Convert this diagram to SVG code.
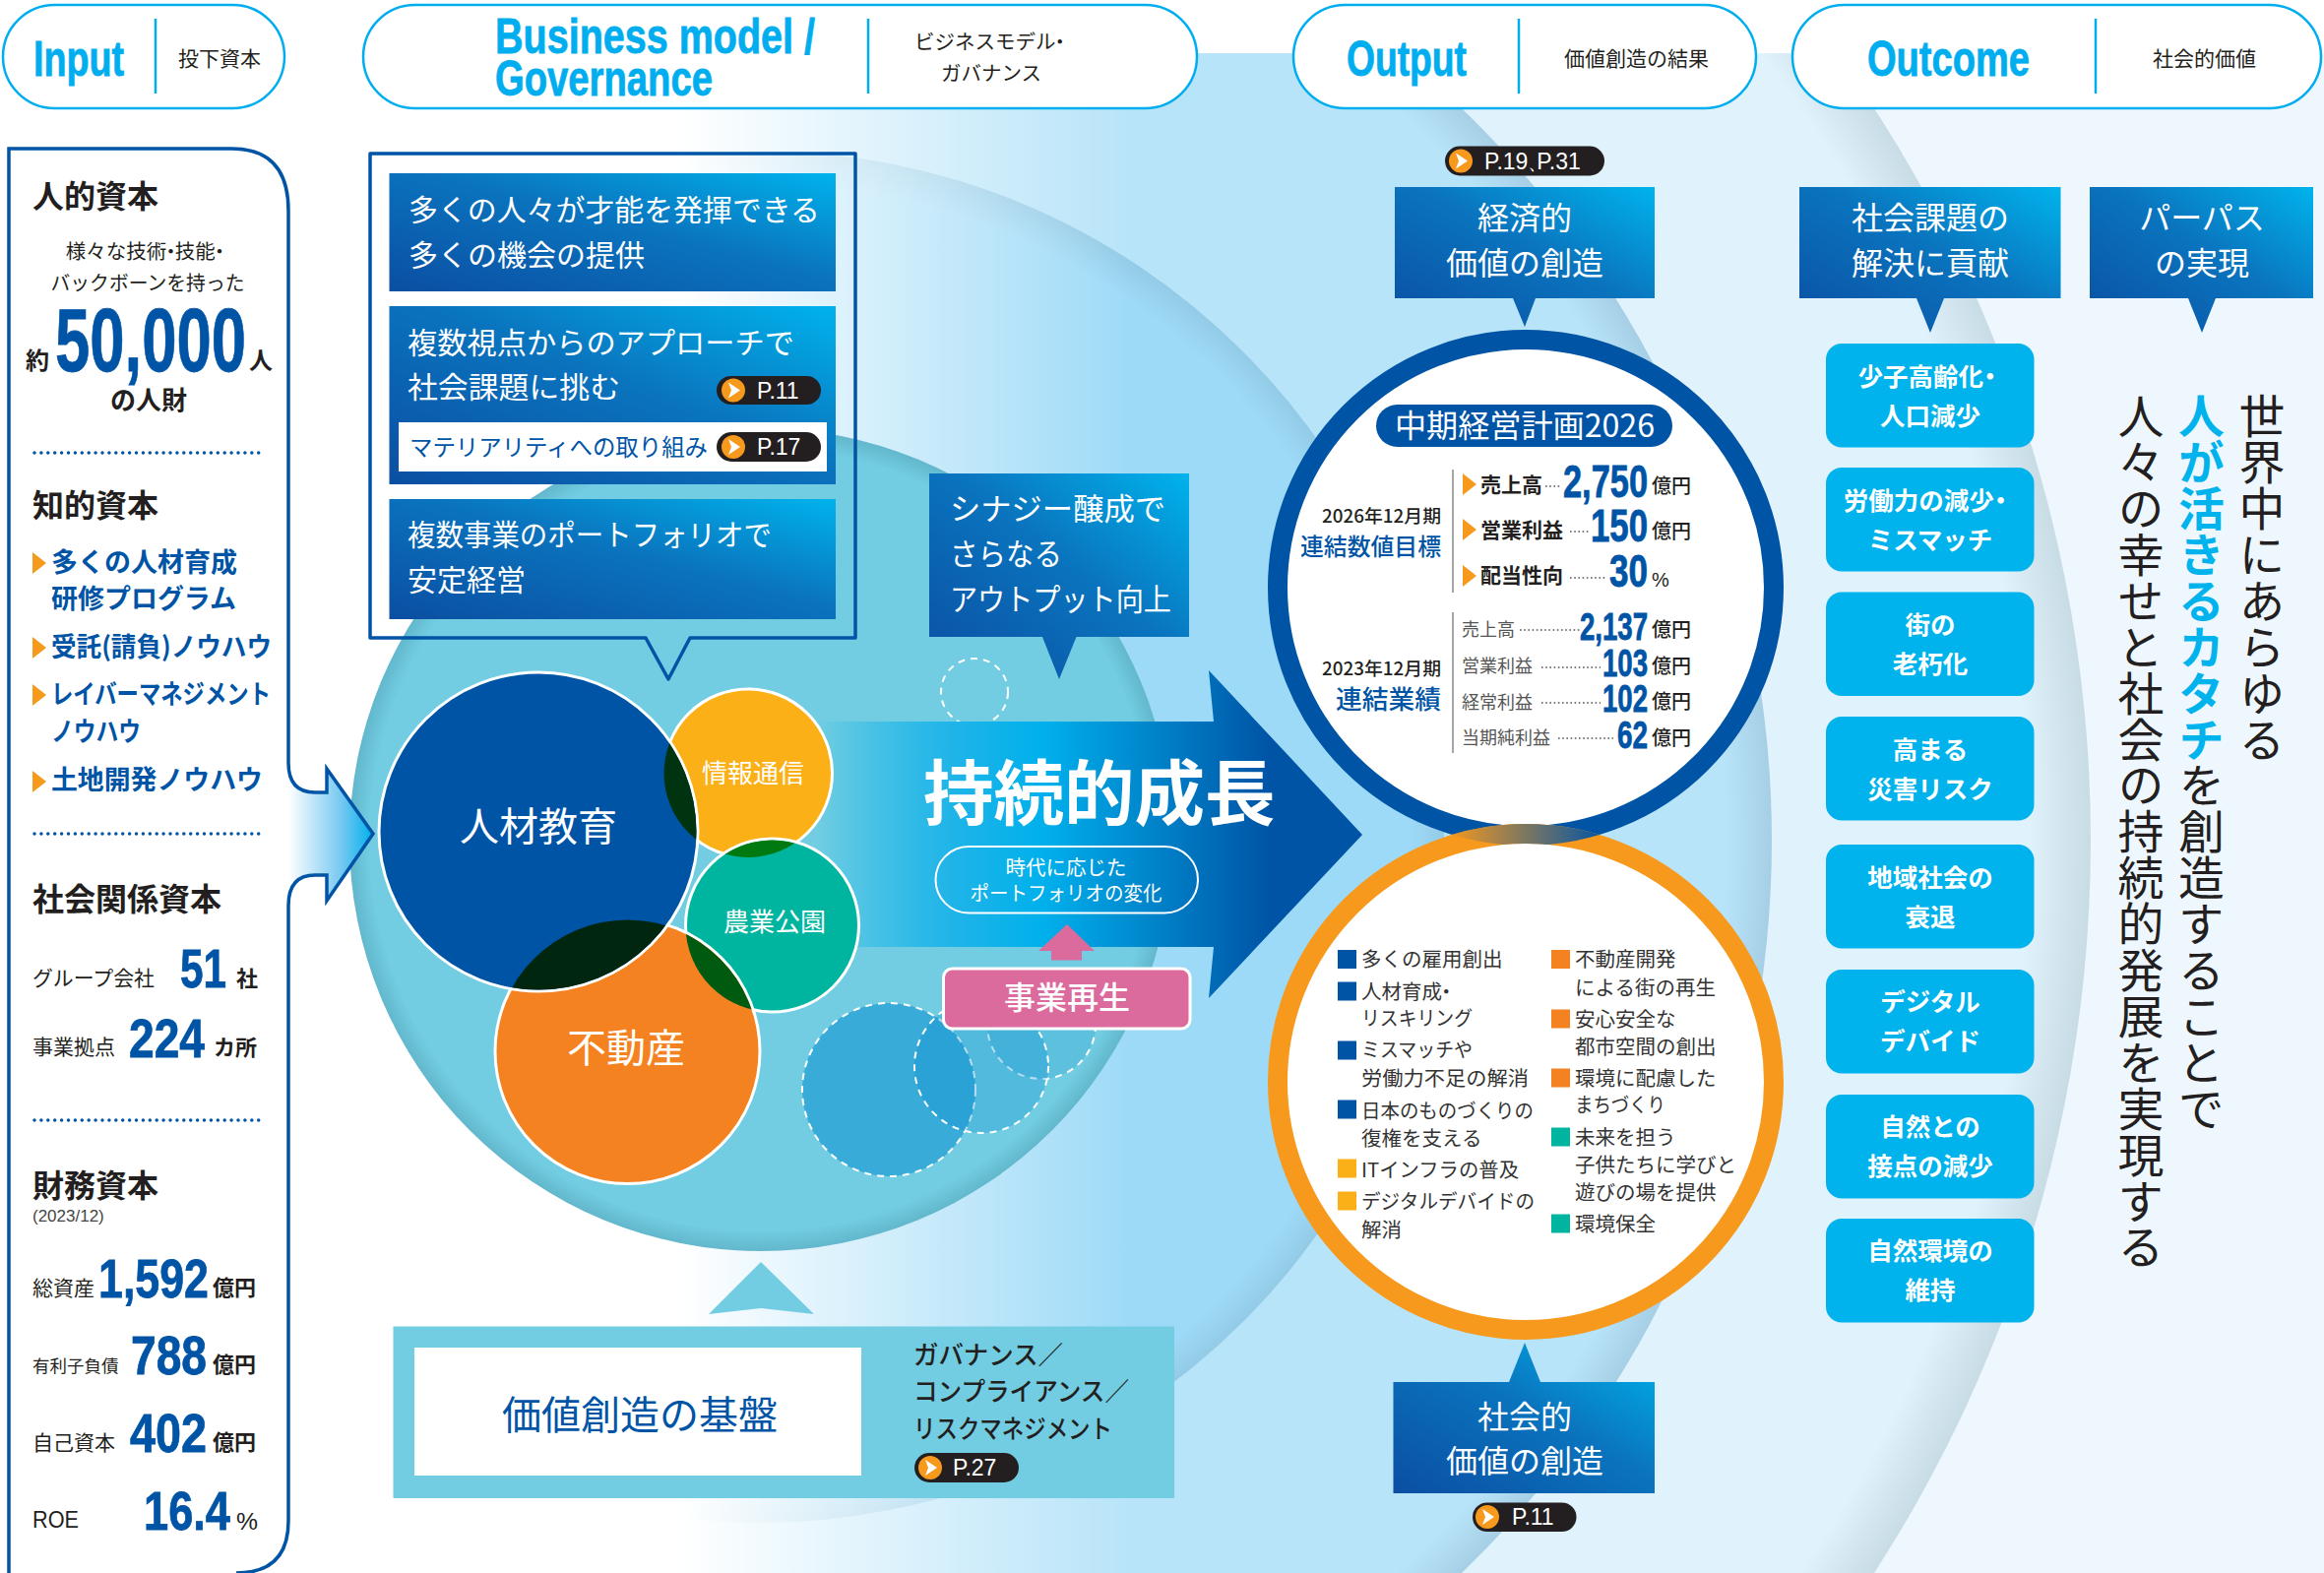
<svg xmlns="http://www.w3.org/2000/svg" xmlns:xlink="http://www.w3.org/1999/xlink" width="2361" height="1598" viewBox="0 0 2361 1598">
<style>
text{font-family:"Noto Sans CJK JP","Noto Sans",sans-serif;fill:#231f20}
.b{font-weight:700}
.m{font-weight:500}
.w{fill:#fff}
.bl{fill:#0054a6}
.n{font-family:"Liberation Sans Narrow","Liberation Sans",sans-serif;font-weight:700;fill:#0054a6;stroke:#0054a6;stroke-width:.8}
.h{font-family:"Liberation Sans Narrow","Liberation Sans",sans-serif;font-weight:700;fill:#00aeef;stroke:#00aeef;stroke-width:.8;font-size:50px}
.l{font-family:"Liberation Sans",sans-serif}
.pill{fill:#fff;stroke:#00aeef;stroke-width:2.5}
.div{stroke:#00aeef;stroke-width:2.5}
.dot{stroke:#0054a6;stroke-width:3.5;stroke-linecap:round;stroke-dasharray:0 6.9;fill:none}
.lead{stroke:#555;stroke-width:1.6;stroke-dasharray:1.6 2.6;fill:none}
.vl{stroke:#8a8a8a;stroke-width:1.5}
.pg{fill:#231f20}
.pt{font-family:"Liberation Sans",sans-serif;font-size:23px;fill:#fff}
.btn{fill:#00b3ec}
.bt{font-size:25.5px;font-weight:700;fill:#fff;text-anchor:middle}
.dash{stroke:#fff;stroke-width:2;stroke-dasharray:7 6}
.li{font-size:20.5px;fill:#333}
.c{text-anchor:middle}
.e{text-anchor:end}
.s{font-size:21px}
.u{font-size:22px;font-weight:700}
.v{font-size:46.9px;writing-mode:vertical-rl}
</style>
<defs>
<linearGradient id="bx" x1="0" y1="1" x2="1" y2="0"><stop offset="0" stop-color="#0b4ea2"/><stop offset=".55" stop-color="#0a74be"/><stop offset="1" stop-color="#00b3ec"/></linearGradient>
<radialGradient id="r3" gradientUnits="userSpaceOnUse" cx="756" cy="854" r="1368"><stop offset=".954" stop-color="#e0f2fb"/><stop offset="1" stop-color="#c8dce6"/></radialGradient>
<radialGradient id="r2" gradientUnits="userSpaceOnUse" cx="764" cy="854" r="1036"><stop offset=".955" stop-color="#b8e4f9"/><stop offset="1" stop-color="#a6cfe6"/></radialGradient>
<radialGradient id="r1" gradientUnits="userSpaceOnUse" cx="770" cy="850" r="697"><stop offset=".95" stop-color="#9ddaf7"/><stop offset="1" stop-color="#93cbe6"/></radialGradient>
<radialGradient id="teal" gradientUnits="userSpaceOnUse" cx="773" cy="853" r="418"><stop offset=".95" stop-color="#72cde2"/><stop offset="1" stop-color="#62b7cc"/></radialGradient>
<linearGradient id="fade" gradientUnits="userSpaceOnUse" x1="690" y1="0" x2="1150" y2="0"><stop offset="0" stop-color="#fff"/><stop offset="1" stop-color="#fff" stop-opacity="0"/></linearGradient>
<linearGradient id="grow" gradientUnits="userSpaceOnUse" x1="830" y1="0" x2="1290" y2="0"><stop offset="0" stop-color="#00b0ec" stop-opacity="0"/><stop offset=".3" stop-color="#1fb4e8"/><stop offset=".5" stop-color="#00b0ec"/><stop offset="1" stop-color="#0054a6"/></linearGradient>
<linearGradient id="inarrow" gradientUnits="userSpaceOnUse" x1="293" y1="0" x2="379" y2="0"><stop offset="0" stop-color="#fff"/><stop offset=".6" stop-color="#7ccaf1"/><stop offset="1" stop-color="#00b0ec"/></linearGradient>
<linearGradient id="lens" gradientUnits="userSpaceOnUse" x1="1470" y1="0" x2="1630" y2="0"><stop offset="0" stop-color="#f7991c"/><stop offset="1" stop-color="#0054a6"/></linearGradient>
<clipPath id="band"><rect x="0" y="54" width="2361" height="1544"/></clipPath>
<clipPath id="cJ"><circle cx="760" cy="785.5" r="85.5"/></clipPath>
<clipPath id="cN"><circle cx="784.5" cy="940" r="88"/></clipPath>
<clipPath id="cF"><circle cx="637.5" cy="1069" r="134.5"/></clipPath>
<clipPath id="cB"><circle cx="1550" cy="597" r="262"/></clipPath>
<path id="ar" d="M0,-11 L14,0 L0,11Z" fill="#f7991c"/>
<g id="ic"><circle r="12" fill="#f7991c"/><path d="M-5,-8 L7,0 L-5,8 L-2,0Z" fill="#fff"/></g>
</defs>
<rect width="2361" height="1598" fill="#fff"/>
<g id="background" clip-path="url(#band)">
<rect x="0" y="54" width="2361" height="1544" fill="#eef7fe"/>
<circle cx="756" cy="854" r="1368" fill="url(#r3)"/>
<circle cx="764" cy="854" r="1036" fill="url(#r2)"/>
<circle cx="770" cy="850" r="697" fill="url(#r1)"/>
<rect x="0" y="54" width="690" height="1544" fill="#fff"/>
<rect x="690" y="54" width="460" height="1544" fill="url(#fade)"/>
</g>
<circle id="teal-circle" cx="773" cy="853" r="418" fill="url(#teal)"/>
<g id="dashed-circles">
<circle class="dash" cx="990" cy="703" r="34" fill="none"/>
<circle class="dash" cx="1058" cy="1041" r="55" fill="#0a8fd0" fill-opacity=".2"/>
<circle class="dash" cx="903" cy="1107" r="88" fill="#0a8fd0" fill-opacity=".55"/>
<circle class="dash" cx="997" cy="1083" r="68" fill="#0a8fd0" fill-opacity=".3"/>
</g>
<g id="connectors">
<path d="M830,733 H1233 L1228,681 L1384,848 L1228,1014 L1233,962 H830Z" fill="url(#grow)"/>
<path d="M1084,939 L1112,966 H1099 V975.5 H1068 V966 H1055Z" fill="#dc6b9d"/>
<path d="M773,1282 L827,1335 L773,1329 L720,1335Z" fill="#72cde2"/>
</g>
<g id="input-header">
<rect class="pill" x="3" y="5" width="286" height="105" rx="52.5"/>
<line class="div" x1="158" y1="19" x2="158" y2="95"/>
<text class="h" x="34" y="77" textLength="92" lengthAdjust="spacingAndGlyphs">Input</text>
<text class="s" x="181" y="67">投下資本</text>
</g>
<g id="business-header">
<rect class="pill" x="369" y="5" width="847" height="105" rx="52.5"/>
<line class="div" x1="882" y1="19" x2="882" y2="95"/>
<text class="h" x="503" y="54" textLength="325" lengthAdjust="spacingAndGlyphs">Business model /</text>
<text class="h" x="503" y="97" textLength="221" lengthAdjust="spacingAndGlyphs">Governance</text>
<text class="c" font-size="20.5" x="1008" y="50">ビジネスモデル<tspan dx="-6">・</tspan></text>
<text class="c" font-size="20.5" x="1007" y="82">ガバナンス</text>
</g>
<g id="output-header">
<rect class="pill" x="1314" y="5" width="470" height="105" rx="52.5"/>
<line class="div" x1="1543" y1="19" x2="1543" y2="95"/>
<text class="h" x="1368" y="77" textLength="122" lengthAdjust="spacingAndGlyphs">Output</text>
<text class="s" x="1589" y="67">価値創造の結果</text>
</g>
<g id="outcome-header">
<rect class="pill" x="1821" y="5" width="537" height="105" rx="52.5"/>
<line class="div" x1="2129" y1="19" x2="2129" y2="95"/>
<text class="h" x="1897" y="77" textLength="165" lengthAdjust="spacingAndGlyphs">Outcome</text>
<text class="s" x="2187" y="67">社会的価値</text>
</g>
<g id="input-panel">
<path d="M9,1598 V151 H235 Q293,151 293,214 V775 Q293,805 320,805 H332 V781 L379,847 L332,915 V889 H320 Q293,889 293,920 V1545 Q293,1598 240,1598" fill="url(#inarrow)" stroke="#0054a6" stroke-width="3.5"/>
<text class="b" font-size="32" x="33" y="211">人的資本</text>
<text class="c" font-size="20.5" x="150" y="263">様々な技術<tspan dx="-6">・</tspan><tspan dx="-6">技能</tspan><tspan dx="-6">・</tspan></text>
<text class="c" font-size="20.5" x="150" y="295" textLength="197" lengthAdjust="spacingAndGlyphs">バックボーンを持った</text>
<text class="b" font-size="24" x="26" y="375">約</text>
<text class="n" font-size="90" x="56" y="377" textLength="194" lengthAdjust="spacingAndGlyphs">50,000</text>
<text class="b" font-size="24" x="253" y="375">人</text>
<text class="b c" font-size="26" x="151" y="416">の人財</text>
<line class="dot" x1="35" y1="460" x2="266" y2="460"/>
<text class="b" font-size="32" x="33" y="525">知的資本</text>
<use href="#ar" x="33" y="572"/>
<use href="#ar" x="33" y="658"/>
<use href="#ar" x="33" y="706"/>
<use href="#ar" x="33" y="794"/>
<text class="b bl" font-size="27" x="52" y="581">多くの人材育成</text>
<text class="b bl" font-size="27" x="52" y="618" textLength="188" lengthAdjust="spacingAndGlyphs">研修プログラム</text>
<text class="b bl" font-size="27" x="52" y="667" textLength="224" lengthAdjust="spacingAndGlyphs">受託(請負)ノウハウ</text>
<text class="b bl" font-size="27" x="52" y="715" textLength="223" lengthAdjust="spacingAndGlyphs">レイバーマネジメント</text>
<text class="b bl" font-size="27" x="52" y="753" textLength="91" lengthAdjust="spacingAndGlyphs">ノウハウ</text>
<text class="b bl" font-size="27" x="52" y="802" textLength="215" lengthAdjust="spacingAndGlyphs">土地開発ノウハウ</text>
<line class="dot" x1="35" y1="847" x2="266" y2="847"/>
<text class="b" font-size="32" x="33" y="925">社会関係資本</text>
<text class="s" x="33" y="1001" textLength="124" lengthAdjust="spacingAndGlyphs">グループ会社</text>
<text class="n" font-size="56" x="183" y="1003" textLength="47" lengthAdjust="spacingAndGlyphs">51</text>
<text class="u" x="240" y="1002">社</text>
<text class="s" x="33" y="1071">事業拠点</text>
<text class="n" font-size="56" x="131" y="1074" textLength="77" lengthAdjust="spacingAndGlyphs">224</text>
<text class="u" x="217" y="1072">カ所</text>
<line class="dot" x1="35" y1="1138" x2="266" y2="1138"/>
<text class="b" font-size="32" x="33" y="1216">財務資本</text>
<text class="l" font-size="17" x="33" y="1241" style="fill:#444">(2023/12)</text>
<text class="s" x="33" y="1316">総資産</text>
<text class="n" font-size="56" x="100" y="1318" textLength="112" lengthAdjust="spacingAndGlyphs">1,592</text>
<text class="u" x="216" y="1316">億円</text>
<text font-size="17.5" x="33" y="1394">有利子負債</text>
<text class="n" font-size="56" x="133" y="1396" textLength="77" lengthAdjust="spacingAndGlyphs">788</text>
<text class="u" x="216" y="1394">億円</text>
<text class="s" x="33" y="1473">自己資本</text>
<text class="n" font-size="56" x="132" y="1475" textLength="78" lengthAdjust="spacingAndGlyphs">402</text>
<text class="u" x="216" y="1473">億円</text>
<text class="l" font-size="24" x="33" y="1552" textLength="47" lengthAdjust="spacingAndGlyphs">ROE</text>
<text class="n" font-size="56" x="146" y="1554" textLength="88" lengthAdjust="spacingAndGlyphs">16.4</text>
<text class="l" font-size="24" x="240" y="1554" textLength="22" lengthAdjust="spacingAndGlyphs">%</text>
</g>
<g id="business-callout">
<path d="M376,156 H869 V648 H701 L679,690 L656,648 H376Z" fill="none" stroke="#0054a6" stroke-width="3.5" stroke-linejoin="round"/>
</g>
<g id="box-opportunity">
<rect x="395.500" y="176" width="453.500" height="120" fill="url(#bx)"/>
<text class="w" font-size="30" x="415" y="224" textLength="418" lengthAdjust="spacingAndGlyphs">多くの人々が才能を発揮できる</text>
<text class="w" font-size="30" x="415" y="270">多くの機会の提供</text>
</g>
<g id="box-approach">
<rect x="395.500" y="311" width="453.500" height="181" fill="url(#bx)"/>
<text class="w" font-size="30" x="414" y="359" textLength="393" lengthAdjust="spacingAndGlyphs">複数視点からのアプローチで</text>
<text class="w" font-size="30" x="414" y="404" textLength="216" lengthAdjust="spacingAndGlyphs">社会課題に挑む</text>
<rect class="pg" x="728" y="382" width="106" height="29" rx="14.5"/>
<use href="#ic" x="745" y="396.500"/>
<text class="pt" x="769" y="405">P.11</text>
<rect x="405" y="429" width="435" height="50" fill="#fff"/>
<text class="bl" font-size="23.5" x="416" y="463" textLength="303" lengthAdjust="spacingAndGlyphs">マテリアリティへの取り組み</text>
<rect class="pg" x="728" y="439" width="106" height="30" rx="15"/>
<use href="#ic" x="745" y="454"/>
<text class="pt" x="769" y="462">P.17</text>
</g>
<g id="box-portfolio">
<rect x="395.500" y="507" width="453.500" height="122" fill="url(#bx)"/>
<text class="w" font-size="30" x="414" y="554" textLength="370" lengthAdjust="spacingAndGlyphs">複数事業のポートフォリオで</text>
<text class="w" font-size="30" x="414" y="600">安定経営</text>
</g>
<g id="box-synergy">
<path d="M944,481 H1208 V647 H1093.500 L1076,690 L1059,647 H944Z" fill="url(#bx)"/>
<text class="w" font-size="31" x="965" y="528" textLength="219" lengthAdjust="spacingAndGlyphs">シナジー醸成で</text>
<text class="w" font-size="31" x="965" y="574" textLength="114" lengthAdjust="spacingAndGlyphs">さらなる</text>
<text class="w" font-size="31" x="965" y="620" textLength="225" lengthAdjust="spacingAndGlyphs">アウトプット向上</text>
</g>
<g id="business-circles">
<circle cx="760" cy="785.500" r="85.500" fill="#fbb017" stroke="#fff" stroke-width="3"/>
<circle cx="784.500" cy="940" r="88" fill="#00b5a0" stroke="#fff" stroke-width="3"/>
<circle cx="784.500" cy="940" r="86.500" fill="#007a10" clip-path="url(#cJ)"/>
<circle cx="637.500" cy="1068" r="134.500" fill="#f58220" stroke="#fff" stroke-width="3"/>
<circle cx="637.500" cy="1068" r="133" fill="#005a10" clip-path="url(#cN)"/>
<circle cx="547" cy="845" r="162" fill="#0054a6" stroke="#fff" stroke-width="3"/>
<circle cx="547" cy="845" r="160.500" fill="#00330f" clip-path="url(#cJ)"/>
<circle cx="547" cy="845" r="160.500" fill="#00260f" clip-path="url(#cF)"/>
<text class="w c" font-size="40" x="547" y="854">人材教育</text>
<text class="w c" font-size="26" x="765" y="795">情報通信</text>
<text class="w c" font-size="26" x="787" y="946">農業公園</text>
<text class="w c" font-size="40" x="636" y="1079">不動産</text>
</g>
<g id="growth-label">
<text class="w b" font-size="71.5" x="938" y="832">持続的成長</text>
<rect x="950.500" y="860" width="266.500" height="67.500" rx="33.700" fill="none" stroke="#fff" stroke-width="2"/>
<text class="w c" font-size="20.5" x="1083" y="889">時代に応じた</text>
<text class="w c" font-size="20.5" x="1083" y="915" textLength="195" lengthAdjust="spacingAndGlyphs">ポートフォリオの変化</text>
</g>
<g id="box-rebirth">
<rect x="958.500" y="984" width="250.500" height="61" rx="9" fill="#dc6b9d" stroke="#fff" stroke-width="3"/>
<text class="w c m" font-size="32" x="1084" y="1025">事業再生</text>
</g>
<g id="base" transform="translate(0,-1)">
<rect x="399.500" y="1348.500" width="793.500" height="174.500" fill="#72cde2"/>
<rect x="421" y="1370" width="454" height="130" fill="#fff"/>
<text class="bl c" font-size="40" x="650" y="1453">価値創造の基盤</text>
<text class="m" font-size="26" x="928" y="1387" textLength="152" lengthAdjust="spacingAndGlyphs">ガバナンス／</text>
<text class="m" font-size="26" x="928" y="1424" textLength="219" lengthAdjust="spacingAndGlyphs">コンプライアンス／</text>
<text class="m" font-size="26" x="928" y="1462" textLength="202" lengthAdjust="spacingAndGlyphs">リスクマネジメント</text>
<rect class="pg" x="929" y="1477" width="106" height="30" rx="15"/>
<use href="#ic" x="945" y="1492"/>
<text class="pt" x="968" y="1500">P.27</text>
</g>
<g id="box-economic">
<rect class="pg" x="1468" y="148.500" width="162" height="30" rx="15"/>
<use href="#ic" x="1484" y="163.500"/>
<text class="pt" x="1508" y="172">P.19<tspan font-size="20">、</tspan><tspan dx="-11">P.31</tspan></text>
<path d="M1417,190 H1681 V303 H1560 L1549,332 L1537,303 H1417Z" fill="url(#bx)"/>
<text class="w c" font-size="32" x="1549" y="233">経済的</text>
<text class="w c" font-size="32" x="1549" y="279">価値の創造</text>
</g>
<g id="circle-economic">
<circle cx="1550" cy="597" r="252" fill="#fff" stroke="#0054a6" stroke-width="20"/>
<rect x="1398" y="411" width="301" height="43" rx="21.500" fill="#0054a6"/>
<text class="w" font-size="32" x="1417" y="444" textLength="264" lengthAdjust="spacingAndGlyphs">中期経営計画2026</text>
<text class="e m" font-size="18" x="1464" y="531" textLength="121" lengthAdjust="spacingAndGlyphs">2026年12月期</text>
<text class="e bl m" font-size="24" x="1464" y="564" textLength="143" lengthAdjust="spacingAndGlyphs">連結数値目標</text>
<line class="vl" x1="1476" y1="477" x2="1476" y2="602"/>
<use href="#ar" x="1486" y="492"/>
<text class="b" font-size="21" x="1504" y="500">売上高</text>
<line class="lead" x1="1570" y1="494" x2="1586" y2="494"/>
<text class="n" font-size="46" x="1588" y="505" textLength="86" lengthAdjust="spacingAndGlyphs">2,750</text>
<text class="m" font-size="20" x="1678" y="501">億円</text>
<use href="#ar" x="1486" y="538"/>
<text class="b" font-size="21" x="1504" y="546">営業利益</text>
<line class="lead" x1="1595" y1="540" x2="1616" y2="540"/>
<text class="n" font-size="46" x="1616" y="550" textLength="58" lengthAdjust="spacingAndGlyphs">150</text>
<text class="m" font-size="20" x="1678" y="547">億円</text>
<use href="#ar" x="1486" y="585"/>
<text class="b" font-size="21" x="1504" y="592">配当性向</text>
<line class="lead" x1="1595" y1="587" x2="1632" y2="587"/>
<text class="n" font-size="46" x="1635" y="596" textLength="39" lengthAdjust="spacingAndGlyphs">30</text>
<text class="l" font-size="20" x="1678" y="596">%</text>
<text class="e m" font-size="18" x="1464" y="686" textLength="121" lengthAdjust="spacingAndGlyphs">2023年12月期</text>
<text class="e bl m" font-size="26" x="1464" y="720" textLength="107" lengthAdjust="spacingAndGlyphs">連結業績</text>
<line class="vl" x1="1476" y1="622" x2="1476" y2="765"/>
<text font-size="18" style="fill:#555" x="1485" y="646">売上高</text>
<line class="lead" x1="1544" y1="640" x2="1605" y2="640"/>
<text class="n" font-size="38" x="1605" y="650" textLength="69" lengthAdjust="spacingAndGlyphs">2,137</text>
<text class="m" font-size="20" x="1678" y="647">億円</text>
<text font-size="18" style="fill:#555" x="1485" y="683">営業利益</text>
<line class="lead" x1="1566" y1="678" x2="1626" y2="678"/>
<text class="n" font-size="38" x="1628" y="687" textLength="46" lengthAdjust="spacingAndGlyphs">103</text>
<text class="m" font-size="20" x="1678" y="684">億円</text>
<text font-size="18" style="fill:#555" x="1485" y="720">経常利益</text>
<line class="lead" x1="1566" y1="714" x2="1626" y2="714"/>
<text class="n" font-size="38" x="1628" y="723" textLength="46" lengthAdjust="spacingAndGlyphs">102</text>
<text class="m" font-size="20" x="1678" y="720">億円</text>
<text font-size="18" style="fill:#555" x="1485" y="756">当期純利益</text>
<line class="lead" x1="1583" y1="750" x2="1639" y2="750"/>
<text class="n" font-size="38" x="1643" y="760" textLength="31" lengthAdjust="spacingAndGlyphs">62</text>
<text class="m" font-size="20" x="1678" y="757">億円</text>
</g>
<g id="circle-social">
<circle cx="1550" cy="1099" r="252" fill="#fff" stroke="#f7991c" stroke-width="20"/>
<circle cx="1550" cy="1099" r="252" fill="none" stroke="url(#lens)" stroke-width="20" clip-path="url(#cB)"/>
<g id="social-list" transform="translate(0,-1)">
<rect x="1359" y="966" width="19" height="19" fill="#0054a6"/><rect x="1359" y="998.500" width="19" height="19" fill="#0054a6"/><rect x="1359" y="1058.500" width="19" height="19" fill="#0054a6"/><rect x="1359" y="1118.500" width="19" height="19" fill="#0054a6"/>
<rect x="1359" y="1178.500" width="19" height="19" fill="#fbb017"/><rect x="1359" y="1211.500" width="19" height="19" fill="#fbb017"/>
<rect x="1576" y="966" width="19" height="19" fill="#f58220"/><rect x="1576" y="1026.500" width="19" height="19" fill="#f58220"/><rect x="1576" y="1086.500" width="19" height="19" fill="#f58220"/>
<rect x="1576" y="1146.500" width="19" height="19" fill="#00b5a0"/><rect x="1576" y="1234.500" width="19" height="19" fill="#00b5a0"/>
<text class="li" x="1383" y="983">多くの雇用創出</text>
<text class="li" x="1383" y="1016">人材育成<tspan dx="-6">・</tspan></text>
<text class="li" x="1383" y="1043" textLength="113" lengthAdjust="spacingAndGlyphs">リスキリング</text>
<text class="li" x="1383" y="1075" textLength="113" lengthAdjust="spacingAndGlyphs">ミスマッチや</text>
<text class="li" x="1383" y="1104" textLength="170" lengthAdjust="spacingAndGlyphs">労働力不足の解消</text>
<text class="li" x="1383" y="1137" textLength="175" lengthAdjust="spacingAndGlyphs">日本のものづくりの</text>
<text class="li" x="1383" y="1165">復権を支える</text>
<text class="li" x="1383" y="1197" textLength="160" lengthAdjust="spacingAndGlyphs">ITインフラの普及</text>
<text class="li" x="1383" y="1229" textLength="176" lengthAdjust="spacingAndGlyphs">デジタルデバイドの</text>
<text class="li" x="1383" y="1258">解消</text>
<text class="li" x="1600" y="983">不動産開発</text>
<text class="li" x="1600" y="1012">による街の再生</text>
<text class="li" x="1600" y="1044">安心安全な</text>
<text class="li" x="1600" y="1072">都市空間の創出</text>
<text class="li" x="1600" y="1104">環境に配慮した</text>
<text class="li" x="1600" y="1131" textLength="92" lengthAdjust="spacingAndGlyphs">まちづくり</text>
<text class="li" x="1600" y="1164">未来を担う</text>
<text class="li" x="1600" y="1192">子供たちに学びと</text>
<text class="li" x="1600" y="1220">遊びの場を提供</text>
<text class="li" x="1600" y="1252">環境保全</text>
</g>
</g>
<g id="box-social" transform="translate(0,-1)">
<path d="M1415.500,1405 H1533 L1549,1365 L1565,1405 H1681 V1518 H1415.500Z" fill="url(#bx)"/>
<text class="w c" font-size="32" x="1549" y="1452">社会的</text>
<text class="w c" font-size="32" x="1549" y="1497">価値の創造</text>
<rect class="pg" x="1496" y="1527.500" width="105.500" height="29.500" rx="14.700"/>
<use href="#ic" x="1511" y="1542"/>
<text class="pt" x="1536" y="1550">P.11</text>
</g>
<g id="box-issues">
<path d="M1828,190 H2093.500 V303 H1975 L1961,338 L1947,303 H1828Z" fill="url(#bx)"/>
<text class="w c" font-size="32" x="1961" y="233">社会課題の</text>
<text class="w c" font-size="32" x="1961" y="279">解決に貢献</text>
</g>
<g id="box-purpose">
<path d="M2123,190 H2350 V303 H2251 L2237,338 L2223,303 H2123Z" fill="url(#bx)"/>
<text class="w c" font-size="32" x="2237" y="233">パーパス</text>
<text class="w c" font-size="32" x="2237" y="279">の実現</text>
</g>
<g id="issue-1"><rect class="btn" x="1855" y="349" width="211.500" height="105.500" rx="16"/><text class="bt" x="1961" y="392">少子高齢化<tspan dx="-6">・</tspan></text><text class="bt" x="1961" y="432">人口減少</text></g>
<g id="issue-2"><rect class="btn" x="1855" y="475" width="211.500" height="105.500" rx="16"/><text class="bt" x="1959" y="518">労働力の減少<tspan dx="-6">・</tspan></text><text class="bt" x="1961" y="558">ミスマッチ</text></g>
<g id="issue-3"><rect class="btn" x="1855" y="601.500" width="211.500" height="105.500" rx="16"/><text class="bt" x="1961" y="644">街の</text><text class="bt" x="1961" y="684">老朽化</text></g>
<g id="issue-4"><rect class="btn" x="1855" y="728" width="211.500" height="105.500" rx="16"/><text class="bt" x="1961" y="771">高まる</text><text class="bt" x="1961" y="811">災害リスク</text></g>
<g id="issue-5"><rect class="btn" x="1855" y="858" width="211.500" height="105.500" rx="16"/><text class="bt" x="1961" y="901">地域社会の</text><text class="bt" x="1961" y="941">衰退</text></g>
<g id="issue-6"><rect class="btn" x="1855" y="985" width="211.500" height="105.500" rx="16"/><text class="bt" x="1961" y="1027">デジタル</text><text class="bt" x="1961" y="1067">デバイド</text></g>
<g id="issue-7"><rect class="btn" x="1855" y="1112" width="211.500" height="105.500" rx="16"/><text class="bt" x="1961" y="1154">自然との</text><text class="bt" x="1961" y="1194">接点の減少</text></g>
<g id="issue-8"><rect class="btn" x="1855" y="1238" width="211.500" height="105.500" rx="16"/><text class="bt" x="1961" y="1280">自然環境の</text><text class="bt" x="1961" y="1320">維持</text></g>
<g id="purpose-statement">
<text class="v" x="2298" y="399">世界中にあらゆる</text>
<text class="v" x="2236.500" y="399"><tspan class="b" style="fill:#00b3ec">人が活きるカタチ</tspan>を創造することで</text>
<text class="v" x="2175" y="399">人々の幸せと社会の持続的発展を実現する</text>
</g>
</svg>
